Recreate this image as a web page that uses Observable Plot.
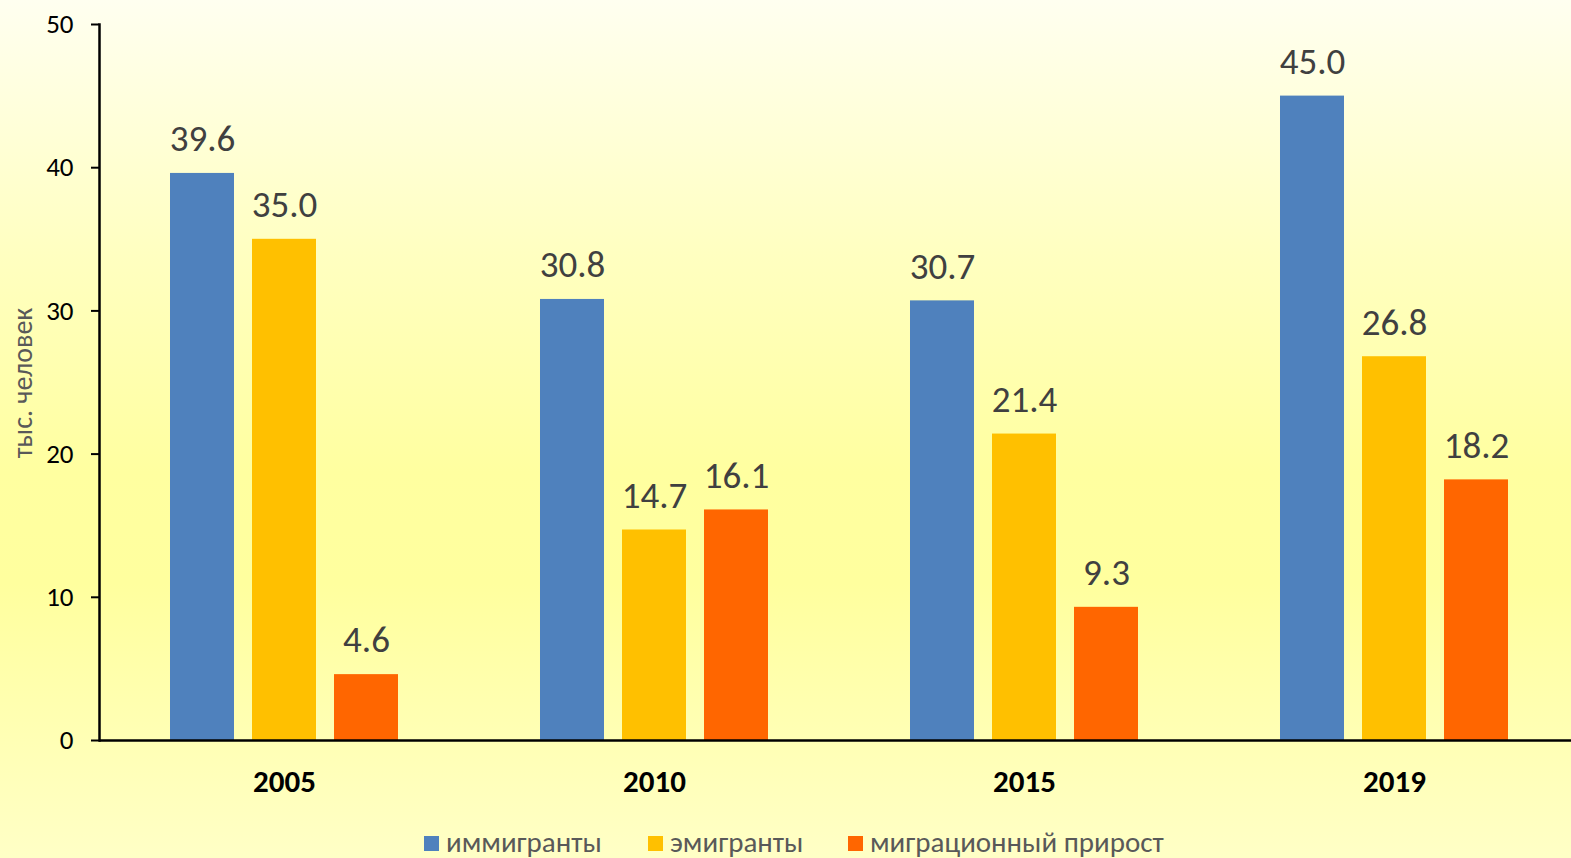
<!DOCTYPE html>
<html>
<head>
<meta charset="utf-8">
<script src="https://cdn.jsdelivr.net/npm/d3@7"></script>
<script src="https://cdn.jsdelivr.net/npm/@observablehq/plot@0.6"></script>
<style>
  html, body { margin: 0; padding: 0; }
  body {
    width: 1571px; height: 858px; overflow: hidden; position: relative;
    font-family: Carlito, Lato, "Open Sans", sans-serif;
    background: linear-gradient(to bottom, #fffff0 0%, #ffffc0 30%, #ffffa0 55%, #ffff9e 68%, #ffffc6 100%);
  }
  #chart { position: absolute; left: 0; top: 0; width: 1579px; }
  #chart svg { max-width: none !important; }
  #ylabel {
    position: absolute; left: 22px; top: 383px;
    transform: translate(-50%, -50%) rotate(-90deg);
    font-size: 28px; color: #595959; white-space: nowrap;
  }
  .leg { position: absolute; top: 825px; font-size: 29px; color: #595959; white-space: nowrap; line-height: 34px; }
  .leg span.sw { display: inline-block; width: 15px; height: 15px; margin-right: 7px; vertical-align: 1px; }
</style>
</head>
<body>
<div id="chart"></div>
<div id="ylabel">тыс. человек</div>
<div id="legend"></div>
<script>
const years = ["2005", "2010", "2015", "2019"];
const seriesNames = ["иммигранты", "эмигранты", "миграционный прирост"];
const colors = ["#4f81bd", "#ffc000", "#ff6600"];
const immigrants = [39.6, 30.8, 30.7, 45.0];
const emigrants = [35.0, 14.7, 21.4, 26.8];
const netGrowth = [4.6, 16.1, 9.3, 18.2];
const yTicks = [0, 10, 20, 30, 40, 50];

const seriesValues = [immigrants, emigrants, netGrowth];
const data = [];
years.forEach((yr, i) => {
  seriesNames.forEach((s, j) => data.push({year: yr, series: s, value: seriesValues[j][i]}));
});

const font = "Carlito, Lato, 'Open Sans', sans-serif";

const chart = Plot.plot({
  width: 1579,
  height: 810,
  marginTop: 24,
  marginBottom: 70,
  marginLeft: 99,
  marginRight: 0,
  style: {background: "transparent", fontFamily: font, maxWidth: "none"},
  fx: {domain: years, padding: 0, label: null},
  x: {domain: seriesNames, paddingInner: 0.22, paddingOuter: 0.866, axis: null},
  y: {domain: [0, 50], label: null},
  color: {domain: seriesNames, range: colors},
  marks: [
    Plot.barY(data, {fx: "year", x: "series", y: "value", fill: "series"}),
    Plot.text(data, {fx: "year", x: "series", y: "value", text: d => d.value.toFixed(1),
      dy: -34, fontSize: 37, fill: "#404040"}),
    Plot.ruleY([0], {stroke: "black", strokeWidth: 2.5}),
    Plot.frame({anchor: "left", facetAnchor: "left", stroke: "black", strokeWidth: 2.5}),
    Plot.axisY({ticks: yTicks, tickSize: 8, tickPadding: 18, fontSize: 27, stroke: "black",
      strokeWidth: 2, color: "black", label: null}),
    Plot.axisFx({anchor: "bottom", tickSize: 0, tickPadding: 29, fontSize: 31, fontWeight: "bold",
      color: "black", label: null})
  ]
});
document.getElementById("chart").appendChild(chart);

const legX = [424, 648, 848];
const legend = document.getElementById("legend");
seriesNames.forEach((s, i) => {
  const d = document.createElement("div");
  d.className = "leg";
  d.style.left = legX[i] + "px";
  d.innerHTML = `<span class="sw" style="background:${colors[i]}"></span>${s}`;
  legend.appendChild(d);
});
</script>
</body>
</html>
